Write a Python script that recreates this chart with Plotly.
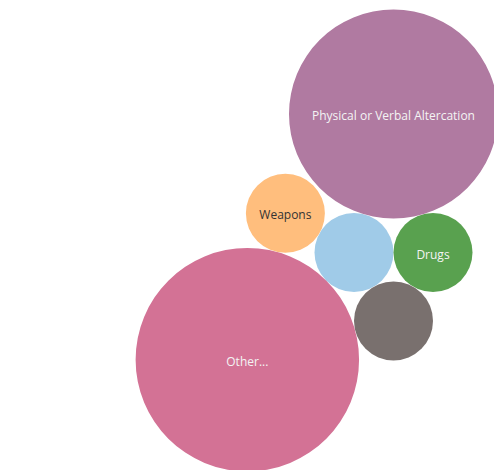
import math
import plotly.graph_objects as go

# ---- data ----
categories = ["Alcohol", "Drugs", "Physical or Verbal Altercation", "Tobacco", "Other...", "Weapons"]
counts = [40, 40, 280, 40, 320, 40]
show_label = [False, True, True, False, True, True]
colors = ["#a0cbe8", "#59a14f", "#b07aa1", "#79706e", "#d37295", "#ffbe7d"]
text_colors = ["#ffffff", "#f4f4f4", "#f4f4f4", "#ffffff", "#f4f4f4", "#333333"]

# ---- bubble radius scale (area proportional to count) ----
k = 39.5 / math.sqrt(40)
radii = [k * math.sqrt(v) for v in counts]
R = dict(zip(categories, radii))


def tangent(c1, r1, c2, r2, r, sign):
    """Place a circle of radius r tangent to two circles."""
    d1, d2 = r1 + r, r2 + r
    dx, dy = c2[0] - c1[0], c2[1] - c1[1]
    d = math.hypot(dx, dy)
    a = (d1 ** 2 - d2 ** 2 + d ** 2) / (2 * d)
    h = math.sqrt(max(d1 ** 2 - a ** 2, 0))
    bx, by = c1[0] + a * dx / d, c1[1] + a * dy / d
    px, py = -dy / d, dx / d
    return (bx + sign * h * px, by + sign * h * py)


# ---- packing (front chain of tangent circles) ----
pos = {}
pos["Alcohol"] = (0.0, 0.0)
pos["Drugs"] = (R["Alcohol"] + R["Drugs"], 0.0)
pos["Physical or Verbal Altercation"] = tangent(pos["Alcohol"], R["Alcohol"], pos["Drugs"], R["Drugs"],
                                                R["Physical or Verbal Altercation"], -1)
pos["Tobacco"] = tangent(pos["Alcohol"], R["Alcohol"], pos["Drugs"], R["Drugs"], R["Tobacco"], 1)
pos["Other..."] = tangent(pos["Alcohol"], R["Alcohol"], pos["Tobacco"], R["Tobacco"], R["Other..."], 1)
pos["Weapons"] = tangent(pos["Other..."], R["Other..."], pos["Alcohol"], R["Alcohol"], R["Weapons"], -1)

W, H = 494, 470
ox, oy = 354, 252.5  # where the pack's first bubble sits in the view

fig = go.Figure()
shapes = []
for cat, col in zip(categories, colors):
    cx, cy = pos[cat]
    r = R[cat]
    shapes.append(dict(type="circle", xref="x", yref="y", x0=cx - r, x1=cx + r, y0=cy - r, y1=cy + r,
                       fillcolor=col, line=dict(width=0), layer="below"))

fig.add_trace(go.Scatter(
    x=[pos[c][0] for c in categories],
    y=[pos[c][1] + 3 for c in categories],
    mode="text",
    text=[c if s else "" for c, s in zip(categories, show_label)],
    textfont=dict(family="Open Sans", size=12, color=text_colors),
    hovertext=[f"{c}: {v}" for c, v in zip(categories, counts)],
    hoverinfo="text",
    showlegend=False,
))

fig.update_layout(
    width=W, height=H,
    margin=dict(l=0, r=0, t=0, b=0),
    paper_bgcolor="white", plot_bgcolor="white",
    shapes=shapes,
    xaxis=dict(range=[-ox, W - ox], visible=False, showgrid=False, zeroline=False),
    yaxis=dict(range=[H - oy, -oy], visible=False, showgrid=False, zeroline=False),
    showlegend=False,
)
fig.write_html("out.html", config={"displayModeBar": False},
               post_script="document.body.style.margin='0';document.body.style.overflow='hidden';")
